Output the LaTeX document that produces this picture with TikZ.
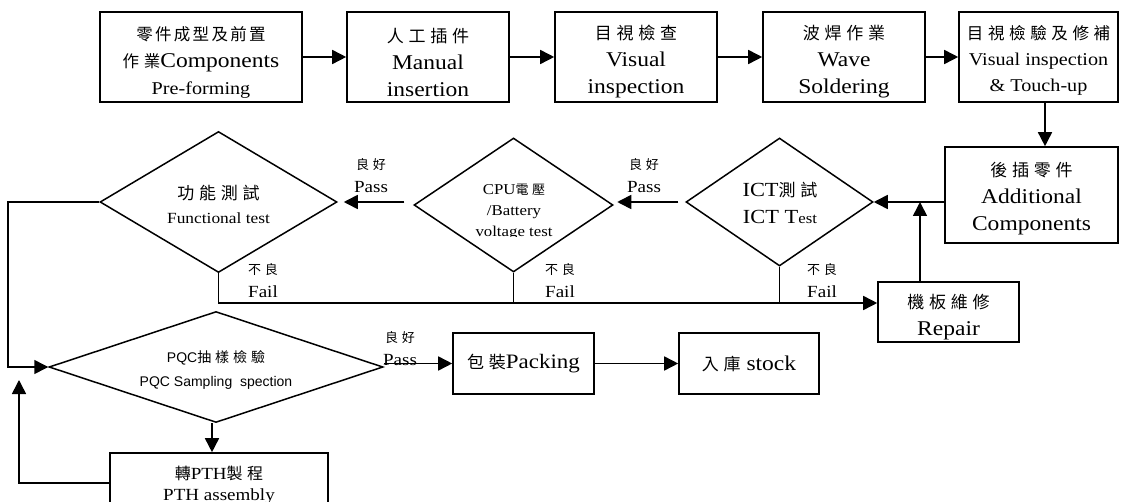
\documentclass[tikz,border=0pt]{standalone}
\usepackage{fontspec}
\setmainfont{Liberation Serif}[FakeStretch=1.12]
\newfontfamily\cjk{Noto Sans CJK TC}[LetterSpace=28]
\newfontfamily\arialsans{Liberation Sans}
\usetikzlibrary{shapes.geometric,arrows.meta}
\newcommand\cj[2][16]{{\fontsize{#1}{27}\selectfont\cjk #2}}
\newcommand\fs[2]{{\fontsize{#1}{27}\selectfont #2}}
\tikzset{
  box/.style={draw, rectangle, line width=1.6pt, inner sep=0pt, align=center},
  dia/.style={draw, diamond, line width=1.5pt, inner sep=0pt},
  txt/.style={inner sep=0pt, align=center},
  conn/.style={line width=1.6pt},
  arr/.style={conn, -{Triangle[length=14pt,width=14pt]}},
  big/.style={font=\fontsize{21}{27}\selectfont},
}
\begin{document}
\begin{tikzpicture}[x=1pt,y=-1pt]
\useasboundingbox (0,0) rectangle (1123,502);
\clip (0,0) rectangle (1123,502);
\fill[white] (0,0) rectangle (1123,502);

% top row
\node[box, minimum width=202pt, minimum height=90pt] (b1) at (201,57) {};
\node[txt, big] (b1t) at (201,62)
  {\cj[16.5]{\addfontfeature{LetterSpace=14}零件成型及前置}\\\cj[16.5]{作業}Components\\\fs{18}{Pre-forming}};
\node[box, minimum width=162pt, minimum height=90pt] (b2) at (428,57) {};
\node[txt, big] (b2t) at (428,62) {\cj[17]{人工插件}\\Manual\\insertion};
\node[box, minimum width=162pt, minimum height=90pt] (b3) at (636,57) {};
\node[txt, big] (b3t) at (636,62) {\cj[17]{目視檢查}\\Visual\\inspection};
\node[box, minimum width=162pt, minimum height=90pt] (b4) at (844,57) {};
\node[txt, big] (b4t) at (844,62) {\cj[17]{波焊作業}\\Wave\\Soldering};
\node[box, minimum width=159pt, minimum height=90pt] (b5) at (1038.5,57) {};
\node[txt, font=\fontsize{18}{26}\selectfont] (b5t) at (1038.5,60)
  {\cj[16.5]{目視檢驗及修補}\\Visual inspection\\\& Touch-up};

% right column
\node[box, minimum width=173pt, minimum height=96pt] (b6) at (1031.5,195) {};
\node[txt, big] (b6t) at (1031.5,198.5) {\cj[17]{後插零件}\\Additional\\Components};
\node[box, minimum width=141pt, minimum height=60pt] (repair) at (948.5,312) {};
\begin{scope}
  \clip (repair.south west) rectangle (repair.north east);
  \node[txt, big] (repairtxt) at (948.5,317) {\cj[17]{機板維修}\\Repair};
\end{scope}

% diamonds
\node[dia, minimum width=237pt, minimum height=141pt] (func) at (218.5,202) {};
\node[txt, font=\fontsize{15.5}{24}\selectfont] (functxt) at (218.5,204.5)
  {\cj[17]{功能測試}\\Functional test};
\node[dia, minimum width=199pt, minimum height=134pt] (cpu) at (513.5,205) {};
\begin{scope}
  \clip (400,140) rectangle (630,237);
  \node[txt, font=\fontsize{15}{21}\selectfont] (cputxt) at (514,212)
    {CPU\cj[13]{電壓}\\/Battery\\voltage test};
\end{scope}
\node[dia, minimum width=187pt, minimum height=128pt] (ict) at (779.5,202) {};
\node[txt, font=\fontsize{20}{27}\selectfont] (icttxt) at (780,203)
  {ICT\cj[17]{測試}\\ICT T\fs{15}{est}};
\node[dia, minimum width=334pt, minimum height=111pt] (pqc) at (216,367) {};
\node[txt, font=\fontsize{14}{24}\selectfont\arialsans] (pqctxt) at (216,370)
  {PQC{\cjk\fontsize{14}{24}\selectfont 抽樣檢驗}\\PQC Sampling\ \ spection};

% bottom boxes
\node[box, minimum width=141pt, minimum height=61pt] (pack) at (523.5,363.5) {};
\node[txt, font=\fontsize{20.5}{27}\selectfont] (packt) at (523.5,363.5) {\cj[17]{包裝}Packing};
\node[box, minimum width=140pt, minimum height=61pt] (stock) at (749,363.5) {};
\node[txt, big] (stockt) at (749,363.5) {\cj[17]{入庫} stock};
\node[box, minimum width=218pt, minimum height=67pt] (pth) at (219,486.5) {};
\node[txt, font=\fontsize{17}{21}\selectfont] (pthtxt) at (219,485)
  {\cj[16]{轉}PTH\cj[16]{製程}\\PTH assembly};

% labels
\node[txt, font=\fontsize{17}{23}\selectfont] (lp1) at (371,175.5) {\cj[13]{良好}\\Pass};
\node[txt, font=\fontsize{17}{23}\selectfont] (lp2) at (644,175.5) {\cj[13]{良好}\\Pass};
\node[txt, font=\fontsize{17}{23}\selectfont, anchor=west, align=left] (lf1) at (248,280.5) {\cj[13]{不良}\\Fail};
\node[txt, font=\fontsize{17}{23}\selectfont, anchor=west, align=left] (lf2) at (545,280.5) {\cj[13]{不良}\\Fail};
\node[txt, font=\fontsize{17}{23}\selectfont, anchor=west, align=left] (lf3) at (807,280.5) {\cj[13]{不良}\\Fail};
\node[txt, font=\fontsize{17}{23}\selectfont] (lp3) at (400,349) {\cj[13]{良好}\\Pass};

% helper coordinates
\coordinate (x5) at (1045,0);
\coordinate (lx) at (8,0);
\coordinate (fy) at (0,303);
\coordinate (ux) at (920,0);
\coordinate (dx) at (212,0);
\coordinate (rx) at (19,0);
\coordinate (ry) at (0,380);
\coordinate (py) at (0,483);

% connectors
\draw[arr] (b1.east) -- (b2.west);
\draw[arr] (b2.east) -- (b3.west);
\draw[arr] (b3.east) -- (b4.west);
\draw[arr] (b4.east) -- (b5.west);
\draw[arr] (b5.south -| x5) -- (b6.north -| x5);
\draw[arr] (b6.west |- ict.east) -- (ict.east);
\draw[arr, shorten <=7pt, shorten >=3.5pt] (ict.west) -- (ict.west -| cpu.east);
\draw[arr, shorten <=9pt, shorten >=6pt] (cpu.west |- func.east) -- (func.east);
\draw[arr] (func.west) -- (func.west -| lx) |- (pqc.west);
\draw[arr] (func.south) |- (repair.west |- fy);
\draw[conn] (cpu.south) -- (cpu.south |- fy);
\draw[conn] (ict.south) -- (ict.south |- fy);
\draw[arr] (repair.north -| ux) -- (ux |- ict.east);
\draw[arr] (pqc.east |- pack.west) -- (pack.west);
\draw[arr] (pack.east) -- (stock.west);
\draw[arr] (pqc.south -| dx) -- (pth.north -| dx);
\draw[arr] (pth.west |- py) -| (rx |- ry);
\end{tikzpicture}
\end{document}
